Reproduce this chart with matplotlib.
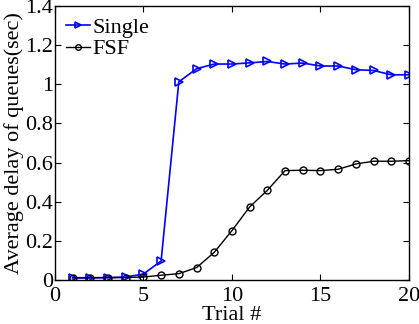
import numpy as np
import matplotlib
matplotlib.use("Agg")
import matplotlib.pyplot as plt

plt.rcParams['font.family'] = ['Liberation Serif', 'DejaVu Serif']

# Datos
trials = list(range(1, 21))
single = [0.010, 0.010, 0.012, 0.015, 0.030, 0.097, 1.013, 1.080, 1.104, 1.104,
          1.110, 1.117, 1.104, 1.109, 1.094, 1.094, 1.075, 1.071, 1.049, 1.049]
fsf = [0.012, 0.012, 0.012, 0.012, 0.015, 0.024, 0.032, 0.063, 0.141, 0.252,
       0.373, 0.458, 0.559, 0.561, 0.559, 0.566, 0.593, 0.607, 0.607, 0.610]
x_ticks = [0, 5, 10, 15, 20]
y_ticks = [0, 0.2, 0.4, 0.6, 0.8, 1, 1.2, 1.4]
y_labels = ['0', '0.2', '0.4', '0.6', '0.8', '1', '1.2', '1.4']

fig = plt.figure(figsize=(4.19, 3.24), dpi=100)
ax = fig.add_axes([0.131, 0.136, 0.845, 0.845])

ax.plot(trials, single, color='#0000ff', marker='>', markersize=6,
        markerfacecolor='none', markeredgewidth=1.2, linewidth=1.2, label='Single')
ax.plot(trials, fsf, color='black', marker='o', markersize=5,
        markerfacecolor='none', markeredgewidth=1.0, linewidth=1.0, label='FSF')

ax.set_xlim(0, 20)
ax.set_ylim(0, 1.4)
ax.set_xticks(x_ticks)
ax.set_yticks(y_ticks)
ax.set_yticklabels(y_labels)
ax.tick_params(direction='in', top=True, right=True, labelsize=16, length=4)
ax.tick_params(axis='x', pad=5)
ax.tick_params(axis='y', pad=1.5)
for s in ax.spines.values():
    s.set_linewidth(1.0)

ax.set_xlabel('Trial #', fontsize=16)
ax.xaxis.set_label_coords(0.5, -0.095)
ax.set_ylabel('Average delay of queues(sec)', fontsize=16, labelpad=1)

ax.legend(loc='upper left', frameon=False, fontsize=16, handlelength=1.1,
          handletextpad=0.1, borderaxespad=0.1, labelspacing=0.05,
          markerscale=0.8)

fig.savefig('out.png', dpi=100)
